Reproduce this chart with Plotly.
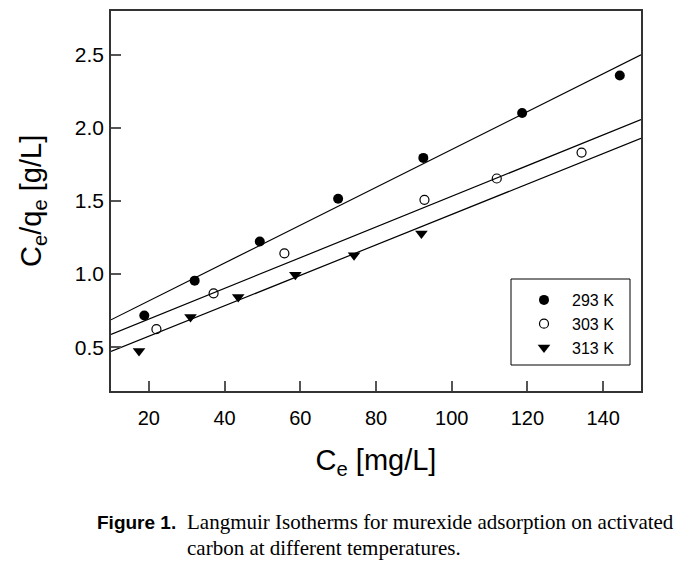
import numpy as np
import plotly.graph_objects as go

# ---- data ----
ce_293 = [18.8, 32.1, 49.3, 70.0, 92.5, 118.6, 144.4]
cq_293 = [0.716, 0.955, 1.223, 1.515, 1.795, 2.102, 2.359]

ce_303 = [22.0, 37.1, 55.8, 92.8, 111.9, 134.3]
cq_303 = [0.623, 0.868, 1.142, 1.508, 1.654, 1.831]

ce_313 = [17.4, 31.0, 43.6, 58.7, 74.2, 92.0]
cq_313 = [0.473, 0.707, 0.844, 0.996, 1.129, 1.278]

series_names = ["293 K", "303 K", "313 K"]
fit_slopes = [0.01295, 0.01050, 0.01042]
fit_intercepts = [0.5575, 0.482, 0.366]

x_range = [10, 150]
y_range = [0.2, 2.8]
x_ticks = [20, 40, 60, 80, 100, 120, 140]
y_ticks = [0.5, 1.0, 1.5, 2.0, 2.5]

W, H = 687, 571
L, R, T, B = 111, 46, 11, 180
pw, ph = W - L - R, H - T - B

def px(xp):
    return (xp - L) / pw

def py(yp):
    return (T + ph - yp) / ph

fig = go.Figure()

# fitted lines
xs_fit = np.array(x_range, dtype=float)
for a, b in zip(fit_intercepts, fit_slopes):
    fig.add_trace(go.Scatter(x=xs_fit, y=a + b * xs_fit, mode="lines",
                             line=dict(color="black", width=1.2),
                             showlegend=False, hoverinfo="skip"))

markers = [
    dict(symbol="circle", size=10, color="black"),
    dict(symbol="circle-open", size=9, color="black", line=dict(width=1.2, color="black")),
    dict(symbol="triangle-down", size=11, color="black"),
]
for xs, ys, name, mk in zip([ce_293, ce_303, ce_313], [cq_293, cq_303, cq_313],
                            series_names, markers):
    fig.add_trace(go.Scatter(x=xs, y=ys, mode="markers", name=name, marker=mk))

axis_common = dict(showgrid=False, zeroline=False, showline=True, mirror=True,
                   linecolor="#333333", linewidth=1.5, ticks="inside", ticklen=10,
                   tickcolor="#555555", tickwidth=1.5)

fig.update_xaxes(range=x_range, tickvals=x_ticks, **axis_common,
                 tickfont=dict(family="Liberation Sans", size=20, color="black"),
                 ticklabelstandoff=8,
                 title=dict(text="C<sub>e</sub> [mg/L]", standoff=22,
                            font=dict(family="Liberation Sans", size=29, color="black")))
fig.update_yaxes(range=y_range, tickvals=y_ticks, tickformat=".1f", **axis_common,
                 tickfont=dict(family="Liberation Sans", size=21, color="black"),
                 ticklabelstandoff=1)

# legend box
fig.add_shape(type="rect", xref="paper", yref="paper",
              x0=px(511), x1=px(630), y0=py(365), y1=py(279),
              line=dict(color="black", width=1), fillcolor="rgba(0,0,0,0)")

fig.update_layout(
    width=W, height=H,
    margin=dict(l=L, r=R, t=T, b=B, autoexpand=False),
    paper_bgcolor="white", plot_bgcolor="white",
    legend=dict(x=px(516), y=py(283), xanchor="left", yanchor="top",
                bgcolor="rgba(0,0,0,0)", borderwidth=0, itemwidth=46,
                font=dict(family="Liberation Sans", size=16, color="black"),
                tracegroupgap=0),
    annotations=[
        dict(xref="paper", yref="paper", x=px(33), y=py(201), xanchor="center", yanchor="middle",
             text="C<sub>e</sub>/q<sub>e</sub> [g/L]", textangle=-90, showarrow=False,
             font=dict(family="Liberation Sans", size=29, color="black")),
        dict(xref="paper", yref="paper", x=px(95), y=py(522), xanchor="left", yanchor="middle",
             text="<b>Figure 1.</b>", showarrow=False,
             font=dict(family="Liberation Sans", size=19, color="black")),
        dict(xref="paper", yref="paper", x=px(185), y=py(522), xanchor="left", yanchor="middle",
             text="Langmuir Isotherms for murexide adsorption on activated", showarrow=False,
             font=dict(family="Liberation Serif", size=21, color="black")),
        dict(xref="paper", yref="paper", x=px(185), y=py(548), xanchor="left", yanchor="middle",
             text="carbon at different temperatures.", showarrow=False,
             font=dict(family="Liberation Serif", size=21, color="black")),
    ],
)

fig.write_html("out.html", config={"displayModeBar": False},
               post_script="document.body.style.margin='0';document.body.style.overflow='hidden';")
